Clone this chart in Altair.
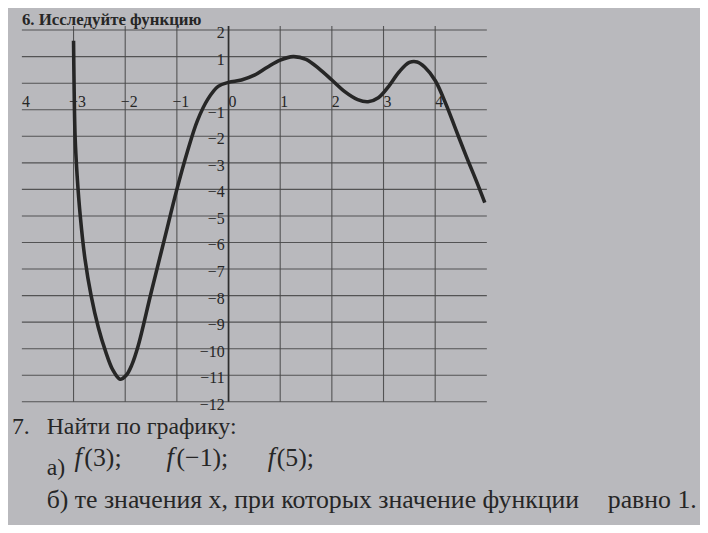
import altair as alt
import pandas as pd

# ---- data ----
curve_x = [-3.0, -2.99, -2.97, -2.93, -2.87, -2.78, -2.66, -2.52, -2.38, -2.24, -2.1,
           -1.98, -1.87, -1.75, -1.5, -1.25, -1.0, -0.8, -0.6, -0.4, -0.2, 0.0,
           0.25, 0.5, 0.75, 1.0, 1.25, 1.5, 1.75, 2.0, 2.25, 2.5, 2.7,
           2.9, 3.1, 3.3, 3.5, 3.65, 3.8, 4.0, 4.2, 4.4, 4.6, 4.8, 4.96]
curve_y = [1.6, 0.0, -2.0, -3.5, -5.0, -6.6, -8.0, -9.2, -10.1, -10.8, -11.15,
           -11.0, -10.6, -9.9, -7.9, -5.95, -4.0, -2.6, -1.4, -0.6, -0.12, 0.03,
           0.12, 0.3, 0.6, 0.87, 1.0, 0.9, 0.55, 0.12, -0.32, -0.62, -0.7,
           -0.55, -0.12, 0.42, 0.78, 0.8, 0.6, 0.1, -0.75, -1.75, -2.75, -3.7, -4.5]

x_grid = [-3, -2, -1, 0, 1, 2, 3, 4]
y_grid = list(range(-12, 3))

x_label_vals = [-4, -3, -2, -1, 0, 1, 2, 3, 4]
x_label_txt = ["4", "−3", "−2", "−1", "0", "1", "2", "3", "4"]
y_label_vals = [2, 1, -1, -2, -3, -4, -5, -6, -7, -8, -9, -10, -11, -12]
y_label_txt = ["2", "1", "−1", "−2", "−3", "−4", "−5", "−6", "−7", "−8", "−9", "−10", "−11", "−12"]

title_txt = "6. Исследуйте функцию"
q7_num = "7."
q7_txt = "Найти по графику:"
qa_txt = "а)"
qa_f = ["f", "f", "f"]
qa_args = ["(3);", "(−1);", "(5);"]
qb_txt = "б) те значения х, при которых значение функции"
qb_end = "равно 1."

FONT = "Liberation Serif, Times New Roman, serif"
INK = "#262626"
W, H = 469, 379

curve_df = pd.DataFrame({"x": curve_x, "y": curve_y, "i": range(len(curve_x))})
xl_df = pd.DataFrame({"x": x_label_vals, "t": x_label_txt, "y": [-0.72] * len(x_label_vals)})
yl_df = pd.DataFrame({"y": y_label_vals, "t": y_label_txt, "x": [0] * len(y_label_vals)})
vg_df = pd.DataFrame({"x": x_grid})
hg_df = pd.DataFrame({"y": y_grid})
axis_df = pd.DataFrame({"x": [0]})

xs = alt.Scale(domain=[-4.0, 5.0], nice=False, zero=False)
ys = alt.Scale(domain=[-12.0, 2.15], nice=False, zero=False)

vgrid = alt.Chart(vg_df).mark_rule(color="#484848", strokeWidth=1.1, opacity=0.9).encode(
    x=alt.X("x:Q", scale=xs, axis=None)
)
hgrid = alt.Chart(hg_df).mark_rule(color="#484848", strokeWidth=1.1, opacity=0.9).encode(
    y=alt.Y("y:Q", scale=ys, axis=None)
)
yaxis_rule = alt.Chart(axis_df).mark_rule(color="#2e2e2e", strokeWidth=1.7).encode(
    x=alt.X("x:Q", scale=xs, axis=None)
)

xlab = alt.Chart(xl_df).mark_text(font=FONT, fontSize=16, color=INK, align="center",
                                  baseline="middle", dx=4).encode(
    x=alt.X("x:Q", scale=xs, axis=None),
    y=alt.Y("y:Q", scale=ys, axis=None),
    text="t:N",
)

ylab = alt.Chart(yl_df).mark_text(font=FONT, fontSize=16, color=INK, align="right",
                                  baseline="middle", dx=-4, dy=3).encode(
    x=alt.X("x:Q", scale=xs, axis=None),
    y=alt.Y("y:Q", scale=ys, axis=None),
    text="t:N",
)

curve = alt.Chart(curve_df).mark_line(color="#262626", strokeWidth=3.6,
                                      interpolate="catmull-rom").encode(
    x=alt.X("x:Q", scale=xs, axis=None),
    y=alt.Y("y:Q", scale=ys, axis=None),
    order="i:Q",
)

def txt(s, x, y, size, bold=False, italic=False):
    kw = dict(font=FONT, fontSize=size, color=INK, align="left", baseline="middle")
    if bold:
        kw["fontWeight"] = "bold"
    if italic:
        kw["fontStyle"] = "italic"
    return alt.Chart(pd.DataFrame({"t": [s]})).mark_text(**kw).encode(
        x=alt.value(x), y=alt.value(y), text="t:N")

texts = [
    txt(title_txt, 0, -6, 17, bold=True),
    txt(q7_num, -10, 404, 24),
    txt(q7_txt, 25, 404, 24),
    txt(qa_txt, 25, 446, 24),
    txt(qa_f[0], 53, 436, 27, italic=True),
    txt(qa_args[0], 63, 436, 26),
    txt(qa_f[1], 146, 436, 27, italic=True),
    txt(qa_args[1], 156, 436, 26),
    txt(qa_f[2], 248, 436, 27, italic=True),
    txt(qa_args[2], 257, 436, 26),
    txt(qb_txt, 25, 478, 26),
    txt(qb_end, 591, 478, 26),
]

chart = alt.layer(vgrid, hgrid, yaxis_rule, xlab, ylab, curve, *texts).properties(
    width=W, height=H,
    autosize=alt.AutoSizeParams(type="none"),
    padding={"left": 14, "top": 16, "right": 215, "bottom": 122},
    background="#b9b9bd",
).configure_view(stroke=None)

chart.save("out.html", embed_options={"renderer": "svg", "actions": False})
